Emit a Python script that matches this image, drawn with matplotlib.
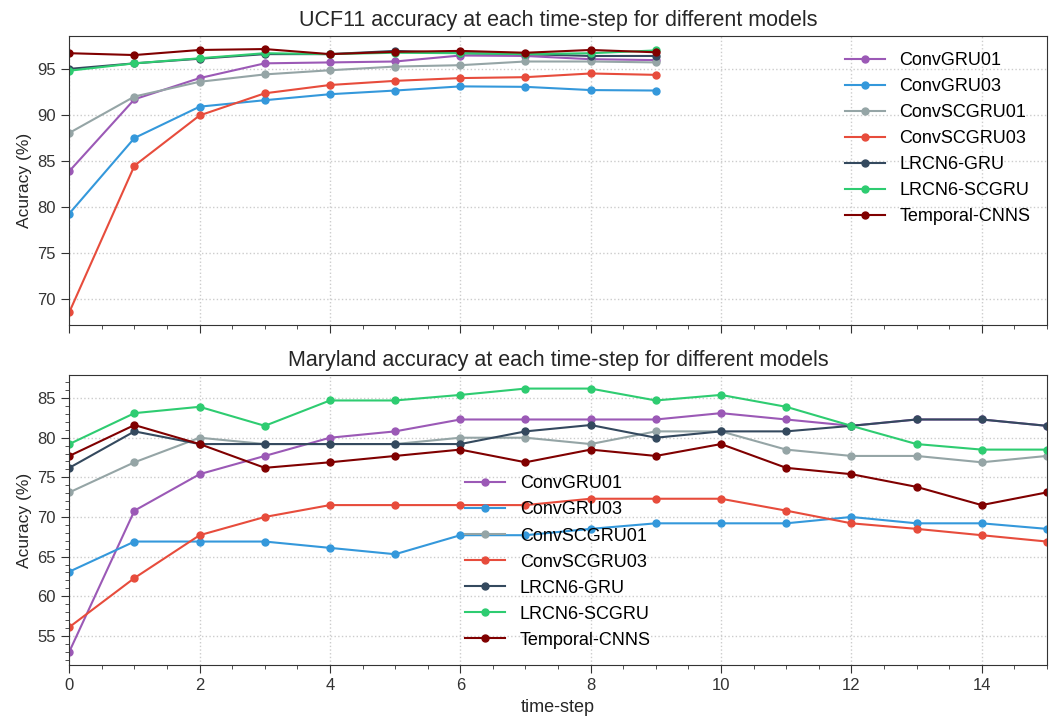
import numpy as np
import matplotlib
matplotlib.use('Agg')
import matplotlib.pyplot as plt
from matplotlib.ticker import AutoMinorLocator

plt.rcParams['font.family'] = ['Liberation Sans', 'DejaVu Sans']

MODELS = ['ConvGRU01', 'ConvGRU03', 'ConvSCGRU01', 'ConvSCGRU03',
          'LRCN6-GRU', 'LRCN6-SCGRU', 'Temporal-CNNS']
COLORS = ['#9b59b6', '#3498db', '#95a5a6', '#e74c3c',
          '#34495e', '#2ecc71', '#800000']

# ---- UCF11 (time-steps 0..9) ----
ucf_steps = list(range(10))
ucf = {
    'ConvGRU01':     [83.9, 91.7, 94.0, 95.6, 95.7, 95.8, 96.45, 96.4, 96.05, 95.95],
    'ConvGRU03':     [79.3, 87.5, 90.9, 91.6, 92.25, 92.65, 93.1, 93.05, 92.7, 92.65],
    'ConvSCGRU01':   [88.05, 92.0, 93.6, 94.4, 94.85, 95.25, 95.4, 95.8, 95.8, 95.7],
    'ConvSCGRU03':   [68.6, 84.5, 89.95, 92.35, 93.25, 93.7, 94.0, 94.1, 94.5, 94.35],
    'LRCN6-GRU':     [95.0, 95.6, 96.1, 96.6, 96.6, 96.95, 96.7, 96.6, 96.4, 96.4],
    'LRCN6-SCGRU':   [94.8, 95.6, 96.15, 96.7, 96.6, 96.75, 96.7, 96.6, 96.7, 97.0],
    'Temporal-CNNS': [96.7, 96.5, 97.05, 97.15, 96.6, 96.85, 96.95, 96.75, 97.05, 96.8],
}

# ---- Maryland (time-steps 0..15) ----
mary_steps = list(range(16))
mary = {
    'ConvGRU01':     [53.0, 70.8, 75.4, 77.7, 80.0, 80.8, 82.3, 82.3, 82.3, 82.3, 83.1, 82.3, 81.5, 82.3, 82.3, 81.5],
    'ConvGRU03':     [63.1, 66.9, 66.9, 66.9, 66.1, 65.3, 67.7, 67.7, 68.5, 69.2, 69.2, 69.2, 70.0, 69.2, 69.2, 68.5],
    'ConvSCGRU01':   [73.1, 76.9, 80.0, 79.2, 79.2, 79.2, 80.0, 80.0, 79.2, 80.8, 80.8, 78.5, 77.7, 77.7, 76.9, 77.7],
    'ConvSCGRU03':   [56.1, 62.3, 67.7, 70.0, 71.5, 71.5, 71.5, 71.5, 72.3, 72.3, 72.3, 70.8, 69.2, 68.5, 67.7, 66.9],
    'LRCN6-GRU':     [76.2, 80.8, 79.2, 79.2, 79.2, 79.2, 79.2, 80.8, 81.6, 80.0, 80.8, 80.8, 81.5, 82.3, 82.3, 81.5],
    'LRCN6-SCGRU':   [79.2, 83.1, 83.9, 81.5, 84.7, 84.7, 85.4, 86.2, 86.2, 84.7, 85.4, 83.9, 81.5, 79.2, 78.5, 78.5],
    'Temporal-CNNS': [77.7, 81.6, 79.2, 76.2, 76.9, 77.7, 78.5, 76.9, 78.5, 77.7, 79.2, 76.2, 75.4, 73.8, 71.5, 73.1],
}

fig, (ax1, ax2) = plt.subplots(2, 1, figsize=(10.5, 7.18), dpi=100, sharex=True)

for ax, steps, data, title, loc in [
        (ax1, ucf_steps, ucf, 'UCF11 accuracy at each time-step for different models', 'upper right'),
        (ax2, mary_steps, mary, 'Maryland accuracy at each time-step for different models', 'lower center')]:
    for name, color in zip(MODELS, COLORS):
        ax.plot(steps, data[name], 'o-', color=color, ms=5, lw=1.5, label=name)
    ax.set_title(title, fontsize=15.5, color='#262626', pad=7)
    ax.set_ylabel('Acuracy (%)', fontsize=12.5, color='#262626')
    ax.grid(True, ls=':', color='#cccccc', lw=1)
    ax.xaxis.set_minor_locator(AutoMinorLocator(4))
    ax.tick_params(which='both', direction='out', labelsize=12, colors='#333333')
    ax.tick_params(which='major', length=6)
    ax.tick_params(which='minor', length=3)
    for s in ax.spines.values():
        s.set_color('#333333')
    ax.legend(loc=loc, frameon=False, fontsize=13, handlelength=2.2, labelspacing=0.5)

ax2.yaxis.set_minor_locator(AutoMinorLocator(5))
ax1.set_xlim(0, 15)
ax1.set_yticks([70, 75, 80, 85, 90, 95])
ax2.set_yticks([55, 60, 65, 70, 75, 80, 85])
ax2.set_xticks(range(0, 15, 2))
ax2.set_xlabel('time-step', fontsize=13, color='#262626')

fig.subplots_adjust(left=0.066, right=0.997, top=0.95, bottom=0.074, hspace=0.173)
fig.savefig('out.png', dpi=100)
